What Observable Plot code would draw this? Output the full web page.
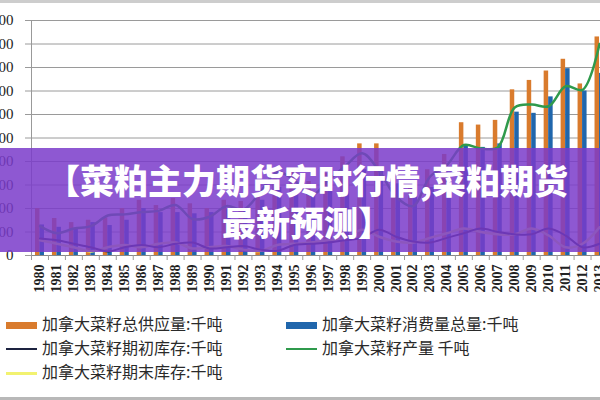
<!DOCTYPE html>
<html>
<head>
<meta charset="utf-8">
<script src="https://cdn.jsdelivr.net/npm/d3@7"></script>
<script src="https://cdn.jsdelivr.net/npm/@observablehq/plot@0.6"></script>
<style>
html,body{margin:0;padding:0;width:600px;height:400px;overflow:hidden;background:#fff;}
#wrap{position:relative;width:600px;height:400px;overflow:hidden;background:#fff;}
#chart{position:absolute;left:0;top:0;}
#topbar{position:absolute;left:0;top:0;width:600px;height:3px;background:#cdcdcd;}
#botbar{position:absolute;left:0;top:397px;width:600px;height:3px;background:#b8b8b8;}
#banner{position:absolute;left:0;top:148px;width:600px;height:104px;background:rgba(122,59,202,0.85);
  color:#fff;font-family:"Noto Sans CJK SC",sans-serif;font-weight:900;font-size:34px;line-height:42px;
  text-align:center;padding-top:11px;padding-left:14px;box-sizing:border-box;white-space:nowrap;}
.sw{position:absolute;}
.lt{position:absolute;font-family:"Noto Sans CJK SC",sans-serif;font-size:16px;line-height:24px;color:#2a2a2a;white-space:nowrap;}
</style>
</head>
<body>
<div id="wrap">
  <div id="chart"></div>
  <div id="topbar"></div>
  <div id="banner">【菜粕主力期货实时行情,菜粕期货<br>最新预测】</div>
  <div id="legend"></div>
  <div id="botbar"></div>
</div>
<script>
const years = ["1980","1981","1982","1983","1984","1985","1986","1987","1988","1989",
  "1990","1991","1992","1993","1994","1995","1996","1997","1998","1999",
  "2000","2001","2002","2003","2004","2005","2006","2007","2008","2009",
  "2010","2011","2012","2013"];
const supply = [4000,3150,2800,3000,3200,4000,4700,4250,4850,4400,
  4000,4700,4600,5300,6500,7300,6300,7000,8400,9500,
  9500,7300,6000,7300,8600,11300,11100,11500,14100,14900,
  15700,16700,14600,18600];
const consumption = [2600,2400,2300,2800,2550,3000,4000,3650,3650,3550,
  3650,3900,3800,4700,5800,5900,5300,5700,6900,7300,
  7200,6100,5000,5800,7100,9300,9200,9500,12200,12100,
  13500,15900,14000,15500];
const production = [2500,1900,2300,2500,3400,3500,3700,3800,4300,3100,
  3300,4200,3900,5400,7100,6400,5100,6400,7600,8700,
  7200,5000,4200,6700,7700,9400,9100,9200,12600,12850,
  12700,14400,14100,18000];
const openingStocks = [1450,1300,1000,700,350,700,900,700,1000,1100,
  600,700,800,500,400,900,1000,1100,1300,1500,
  2200,1600,1200,1100,1500,1900,2300,2000,1800,1800,
  2300,1700,700,1000];
const endingStocks = [1300,1000,700,350,700,900,700,1000,1100,600,
  700,800,500,400,900,1000,1100,1300,1500,2200,
  1600,1200,1100,1500,1900,2300,2000,1800,1800,2300,
  1700,700,1000,2400];
const yTicks = [0,2000,4000,6000,8000,10000,12000,14000,16000,18000,20000];
const seriesNames = ["加拿大菜籽总供应量:千吨","加拿大菜籽消费量总量:千吨","加拿大菜籽期初库存:千吨","加拿大菜籽产量 千吨","加拿大菜籽期末库存:千吨"];
const seriesColors = ["#d97b2d","#2066ac","#1d2340","#2f9a4c","#f2f270"];

const rows = years.map((y, i) => ({
  year: y, supply: supply[i], consumption: consumption[i],
  production: production[i], opening: openingStocks[i], ending: endingStocks[i]
}));

const W = 608, ML = 31, MR = 0.5;
const step = (W - ML - MR) / years.length;
const half = step / 2;
const barW = 4.5;

const chart = Plot.plot({
  width: W, height: 305,
  marginLeft: ML, marginRight: MR, marginTop: 20, marginBottom: 50,
  style: {fontFamily: "'Liberation Serif', serif", fontSize: "14px", background: "transparent", maxWidth: "none", overflow: "visible"},
  x: {type: "band", domain: years, padding: 0, label: null},
  y: {domain: [0, 20000], label: null},
  marks: [
    Plot.gridY(yTicks, {stroke: "#9a9a9a", strokeOpacity: 1}),
    Plot.axisY(yTicks, {tickSize: 6, tickPadding: 12, stroke: "#9a9a9a", fill: "#222", fontSize: 15, tickFormat: d => String(d), label: null}),
    Plot.barY(rows, {x: "year", y: "supply", fill: seriesColors[0], insetLeft: half - barW, insetRight: half}),
    Plot.barY(rows, {x: "year", y: "consumption", fill: seriesColors[1], insetLeft: half, insetRight: half - barW}),
    Plot.line(rows, {x: "year", y: "ending", stroke: seriesColors[4], strokeWidth: 2.5, curve: "catmull-rom"}),
    Plot.line(rows, {x: "year", y: "opening", stroke: seriesColors[2], strokeWidth: 2, curve: "catmull-rom"}),
    Plot.line(rows, {x: "year", y: "production", stroke: seriesColors[3], strokeWidth: 2.5, curve: "catmull-rom"}),
    Plot.ruleY([0], {stroke: "#888"}),
    Plot.ruleX([years[0]], {x: d => d, dx: -half, stroke: "#999"}),
    Plot.axisX({tickSize: 5, tickFormat: () => "", dx: -half, stroke: "#999", label: null}),
    Plot.axisX({tickSize: 0, tickRotate: -90, tickPadding: 9, fontSize: 14, fontWeight: "bold", fill: "#222", label: null})
  ]
});
document.getElementById("chart").append(chart);

// legend
const legend = document.getElementById("legend");
const items = [
  {i: 0, left: 6, cy: 325, kind: "rect"},
  {i: 1, left: 286, cy: 325, kind: "rect"},
  {i: 2, left: 6, cy: 349, kind: "line"},
  {i: 3, left: 286, cy: 349, kind: "line"},
  {i: 4, left: 6, cy: 373, kind: "line"}
];
items.forEach(it => {
  const sw = document.createElement("div");
  sw.className = "sw";
  const h = it.kind === "rect" ? 7 : (it.i === 4 ? 3 : 2.5);
  sw.style.left = it.left + "px";
  sw.style.top = (it.cy - h / 2) + "px";
  sw.style.width = "31px";
  sw.style.height = h + "px";
  sw.style.background = seriesColors[it.i];
  legend.append(sw);
  const t = document.createElement("div");
  t.className = "lt";
  t.style.left = (it.left + 36) + "px";
  t.style.top = (it.cy - 14) + "px";
  t.textContent = seriesNames[it.i];
  legend.append(t);
});
</script>
</body>
</html>
